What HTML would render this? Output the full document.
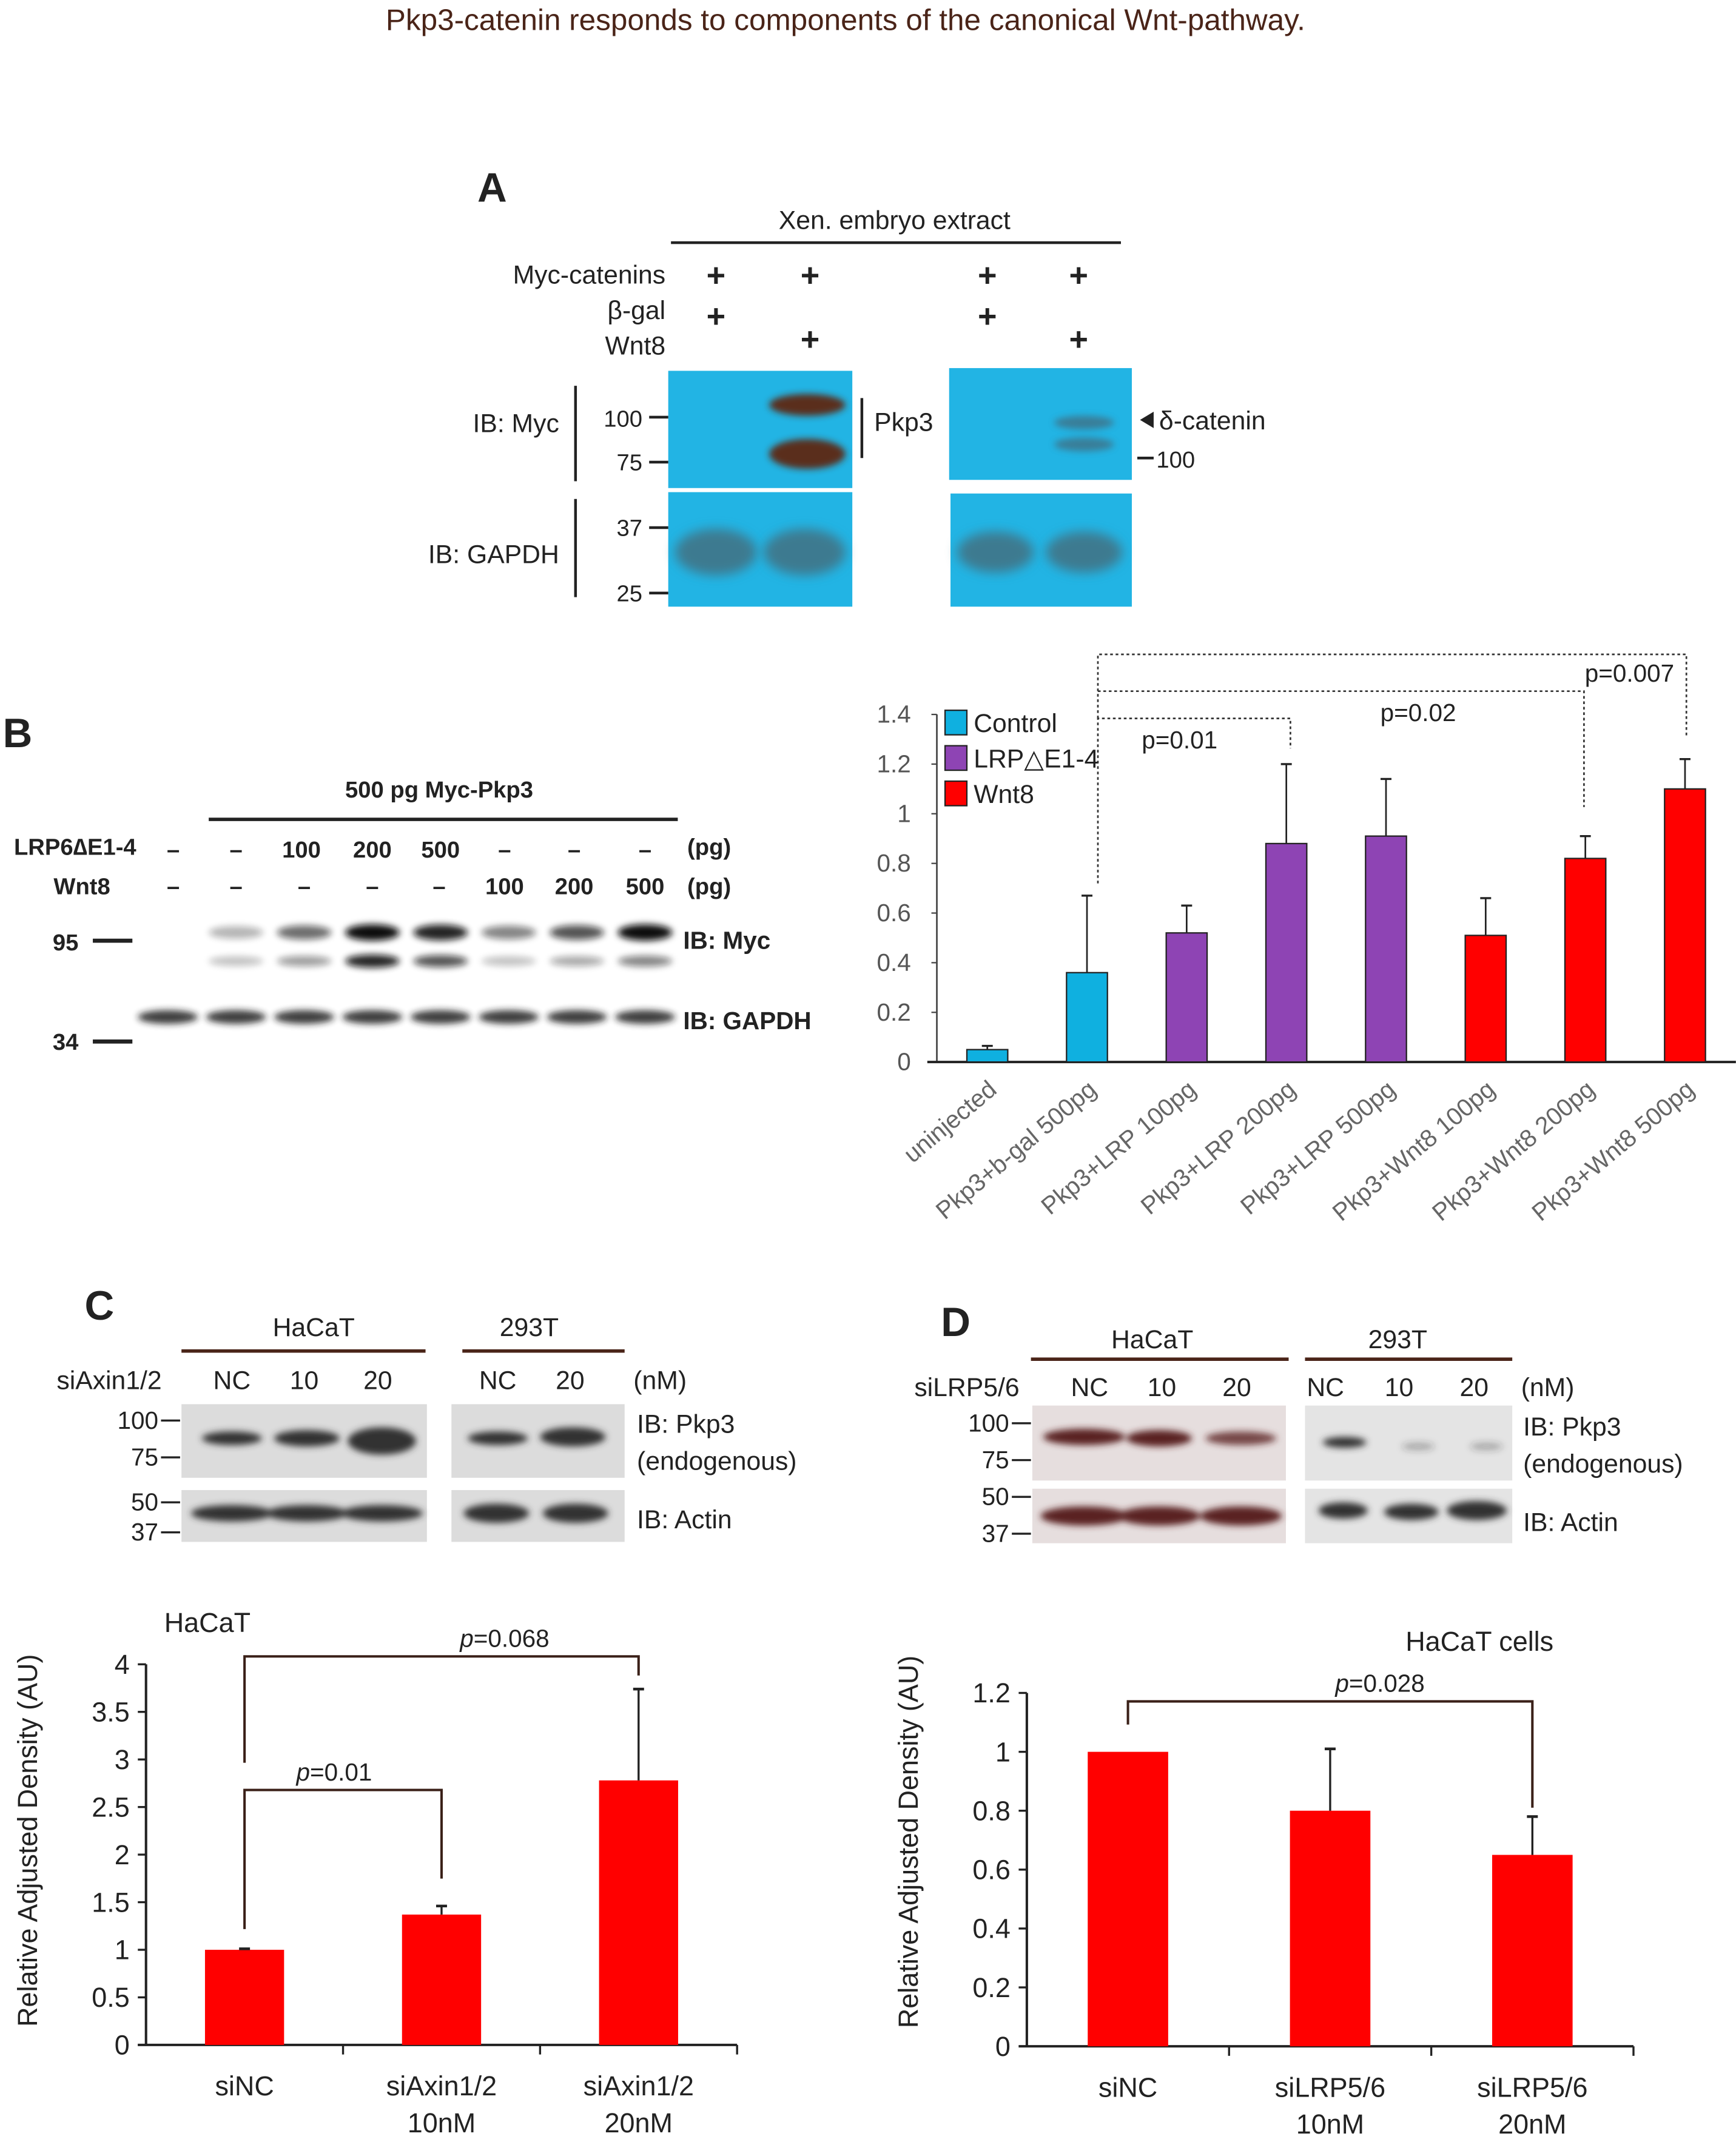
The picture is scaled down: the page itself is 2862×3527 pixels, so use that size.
<!DOCTYPE html>
<html><head><meta charset="utf-8"><style>
html,body{margin:0;padding:0;background:#fff}
svg{display:block}
text{font-family:"Liberation Sans",sans-serif;fill:#222}
</style></head><body>
<svg id="fig" width="2862" height="3527" viewBox="0 0 1273 1569" xmlns="http://www.w3.org/2000/svg">
<defs>
<filter id="bl" x="-50%" y="-100%" width="200%" height="300%"><feGaussianBlur stdDeviation="2.5"/></filter>
<filter id="bl2" x="-50%" y="-100%" width="200%" height="300%"><feGaussianBlur stdDeviation="4"/></filter>
</defs>
<text x="620" y="22" font-size="22" text-anchor="middle" style="fill:#4a2418">Pkp3-catenin responds to components of the canonical Wnt-pathway.</text>

<!-- Panel A -->
<g>
<text x="350" y="148" font-size="30" font-weight="bold">A</text>
<text x="656" y="168" font-size="19" text-anchor="middle">Xen. embryo extract</text>
<line x1="492" y1="178" x2="822" y2="178" stroke="#222" stroke-width="2"/>
<text x="488" y="208" font-size="19" text-anchor="end">Myc-catenins</text>
<text x="488" y="234" font-size="19" text-anchor="end">β-gal</text>
<text x="488" y="260" font-size="19" text-anchor="end">Wnt8</text>
<g font-size="24" font-weight="bold" text-anchor="middle">
<text x="525" y="210">+</text><text x="594" y="210">+</text><text x="724" y="210">+</text><text x="791" y="210">+</text>
<text x="525" y="240">+</text><text x="724" y="240">+</text>
<text x="594" y="257">+</text><text x="791" y="257">+</text>
</g>
<rect x="490" y="272" width="135" height="86" fill="#22b4e4"/>
<rect x="490" y="361" width="135" height="84" fill="#22b4e4"/>
<rect x="696" y="270" width="134" height="82" fill="#22b4e4"/>
<rect x="697" y="362" width="133" height="83" fill="#22b4e4"/>
<ellipse cx="592" cy="297" rx="28" ry="8" fill="#5a2d1e" filter="url(#bl)"/>
<ellipse cx="592" cy="333" rx="28" ry="11" fill="#5a2d1e" filter="url(#bl)"/>
<ellipse cx="795" cy="310" rx="22" ry="5" fill="#4a5a66" filter="url(#bl)" opacity=".6"/>
<ellipse cx="795" cy="326" rx="22" ry="5" fill="#4a5a66" filter="url(#bl)" opacity=".6"/>
<ellipse cx="525" cy="405" rx="30" ry="17" fill="#3d7a90" filter="url(#bl2)"/>
<ellipse cx="590" cy="405" rx="30" ry="17" fill="#3d7a90" filter="url(#bl2)"/>
<ellipse cx="730" cy="405" rx="28" ry="15" fill="#3d7a90" filter="url(#bl2)"/>
<ellipse cx="795" cy="405" rx="28" ry="15" fill="#3d7a90" filter="url(#bl2)"/>
<text x="410" y="317" font-size="19" text-anchor="end">IB: Myc</text>
<line x1="422" y1="283" x2="422" y2="353" stroke="#222" stroke-width="2"/>
<text x="410" y="413" font-size="19" text-anchor="end">IB: GAPDH</text>
<line x1="422" y1="366" x2="422" y2="438" stroke="#222" stroke-width="2"/>
<g font-size="17" text-anchor="end">
<text x="471" y="313">100</text><text x="471" y="345">75</text><text x="471" y="393">37</text><text x="471" y="441">25</text>
</g>
<g stroke="#222" stroke-width="2"><line x1="476" y1="306" x2="490" y2="306"/><line x1="476" y1="339" x2="490" y2="339"/><line x1="476" y1="387" x2="490" y2="387"/><line x1="476" y1="435" x2="490" y2="435"/>
<line x1="632" y1="292" x2="632" y2="336"/><line x1="834" y1="336" x2="846" y2="336"/></g>
<text x="641" y="316" font-size="19">Pkp3</text>
<polygon points="836,308 846,302 846,314" fill="#222"/>
<text x="850" y="315" font-size="19">δ-catenin</text>
<text x="848" y="343" font-size="17">100</text>
</g>

<!-- Panel B blot -->
<g>
<text x="2" y="548" font-size="30" font-weight="bold">B</text>
<text x="322" y="585" font-size="17" font-weight="bold" text-anchor="middle">500 pg Myc-Pkp3</text>
<line x1="153" y1="601" x2="497" y2="601" stroke="#222" stroke-width="2.5"/>
<g font-size="17" font-weight="bold" text-anchor="middle">
<text x="55" y="627">LRP6∆E1-4</text><text x="60" y="656">Wnt8</text>
<text x="127" y="629">–</text><text x="173" y="629">–</text><text x="221" y="629">100</text><text x="273" y="629">200</text><text x="323" y="629">500</text><text x="370" y="629">–</text><text x="421" y="629">–</text><text x="473" y="629">–</text><text x="520" y="627">(pg)</text>
<text x="127" y="656">–</text><text x="173" y="656">–</text><text x="223" y="656">–</text><text x="273" y="656">–</text><text x="322" y="656">–</text><text x="370" y="656">100</text><text x="421" y="656">200</text><text x="473" y="656">500</text><text x="520" y="656">(pg)</text>
<text x="48" y="697">95</text><text x="48" y="770">34</text>
</g>
<line x1="68" y1="690" x2="97" y2="690" stroke="#222" stroke-width="3"/>
<line x1="68" y1="764" x2="97" y2="764" stroke="#222" stroke-width="3"/>
<g id="bandsB"></g>
<text x="501" y="696" font-size="18" font-weight="bold">IB: Myc</text>
<text x="501" y="755" font-size="18" font-weight="bold">IB: GAPDH</text>
</g>

<!-- Panel B chart -->
<g id="chartB"></g>

<!-- Panel C blot -->
<g>
<text x="62" y="968" font-size="30" font-weight="bold">C</text>
<text x="230" y="980" font-size="19" text-anchor="middle">HaCaT</text>
<text x="388" y="980" font-size="19" text-anchor="middle">293T</text>
<line x1="133" y1="991" x2="312" y2="991" stroke="#4a2418" stroke-width="2.5"/>
<line x1="339" y1="991" x2="458" y2="991" stroke="#4a2418" stroke-width="2.5"/>
<g font-size="19" text-anchor="middle"><text x="80" y="1019">siAxin1/2</text><text x="170" y="1019">NC</text><text x="223" y="1019">10</text><text x="277" y="1019">20</text><text x="365" y="1019">NC</text><text x="418" y="1019">20</text><text x="484" y="1019">(nM)</text></g>
<rect x="133" y="1030" width="180" height="54" fill="#dcdcdc"/>
<rect x="331" y="1030" width="127" height="54" fill="#dcdcdc"/>
<rect x="133" y="1093" width="180" height="38" fill="#dcdcdc"/>
<rect x="331" y="1093" width="127" height="38" fill="#dcdcdc"/>
<g fill="#333" filter="url(#bl)">
<ellipse cx="170" cy="1055" rx="22" ry="5"/><ellipse cx="225" cy="1055" rx="24" ry="6"/><ellipse cx="280" cy="1057" rx="25" ry="10"/>
<ellipse cx="365" cy="1055" rx="22" ry="5"/><ellipse cx="420" cy="1054" rx="24" ry="7"/>
<ellipse cx="170" cy="1110" rx="30" ry="6"/><ellipse cx="225" cy="1110" rx="30" ry="6"/><ellipse cx="280" cy="1110" rx="30" ry="6"/>
<ellipse cx="364" cy="1110" rx="24" ry="7"/><ellipse cx="422" cy="1110" rx="24" ry="7"/></g>
<g font-size="18" text-anchor="end"><text x="116" y="1048">100</text><text x="116" y="1075">75</text><text x="116" y="1108">50</text><text x="116" y="1130">37</text></g>
<g stroke="#222" stroke-width="1.5"><line x1="118" y1="1042" x2="132" y2="1042"/><line x1="118" y1="1069" x2="132" y2="1069"/><line x1="118" y1="1102" x2="132" y2="1102"/><line x1="118" y1="1124" x2="132" y2="1124"/></g>
<text x="467" y="1051" font-size="19">IB: Pkp3</text><text x="467" y="1078" font-size="19">(endogenous)</text><text x="467" y="1121" font-size="19">IB: Actin</text>
</g>

<!-- Panel D blot -->
<g>
<text x="690" y="980" font-size="30" font-weight="bold">D</text>
<text x="845" y="989" font-size="19" text-anchor="middle">HaCaT</text>
<text x="1025" y="989" font-size="19" text-anchor="middle">293T</text>
<line x1="756" y1="997" x2="945" y2="997" stroke="#4a2418" stroke-width="2.5"/>
<line x1="957" y1="997" x2="1109" y2="997" stroke="#4a2418" stroke-width="2.5"/>
<g font-size="19" text-anchor="middle"><text x="709" y="1024">siLRP5/6</text><text x="799" y="1024">NC</text><text x="852" y="1024">10</text><text x="907" y="1024">20</text><text x="972" y="1024">NC</text><text x="1026" y="1024">10</text><text x="1081" y="1024">20</text><text x="1135" y="1024">(nM)</text></g>
<rect x="757" y="1031" width="186" height="55" fill="#e6dede"/>
<rect x="957" y="1031" width="152" height="55" fill="#e4e4e4"/>
<rect x="757" y="1092" width="186" height="40" fill="#e6dede"/>
<rect x="957" y="1092" width="152" height="40" fill="#e4e4e4"/>
<g fill="#5a2222" filter="url(#bl)">
<ellipse cx="795" cy="1054" rx="30" ry="6"/><ellipse cx="850" cy="1055" rx="24" ry="6"/><ellipse cx="910" cy="1055" rx="26" ry="5" opacity=".8"/>
<ellipse cx="795" cy="1112" rx="32" ry="7"/><ellipse cx="850" cy="1112" rx="30" ry="7"/><ellipse cx="910" cy="1112" rx="30" ry="7"/></g>
<g fill="#333" filter="url(#bl)">
<ellipse cx="986" cy="1058" rx="16" ry="4"/><ellipse cx="1040" cy="1061" rx="12" ry="3" opacity=".3"/><ellipse cx="1090" cy="1061" rx="12" ry="3" opacity=".3"/>
<ellipse cx="985" cy="1108" rx="18" ry="6"/><ellipse cx="1035" cy="1109" rx="20" ry="6"/><ellipse cx="1083" cy="1108" rx="22" ry="7"/></g>
<g font-size="18" text-anchor="end"><text x="740" y="1050">100</text><text x="740" y="1077">75</text><text x="740" y="1104">50</text><text x="740" y="1131">37</text></g>
<g stroke="#222" stroke-width="1.5"><line x1="742" y1="1044" x2="756" y2="1044"/><line x1="742" y1="1071" x2="756" y2="1071"/><line x1="742" y1="1098" x2="756" y2="1098"/><line x1="742" y1="1125" x2="756" y2="1125"/></g>
<text x="1117" y="1053" font-size="19">IB: Pkp3</text><text x="1117" y="1080" font-size="19">(endogenous)</text><text x="1117" y="1123" font-size="19">IB: Actin</text>
</g>

<g id="chartC"></g>
<g id="chartD"></g>
</svg>
<script>
// ---- Panel B chart data
const bCats = ["uninjected","Pkp3+b-gal 500pg","Pkp3+LRP 100pg","Pkp3+LRP 200pg","Pkp3+LRP 500pg","Pkp3+Wnt8 100pg","Pkp3+Wnt8 200pg","Pkp3+Wnt8 500pg"];
const bVals = [0.05,0.36,0.52,0.88,0.91,0.51,0.82,1.1];
const bErr = [0.015,0.31,0.11,0.32,0.23,0.15,0.09,0.12];
const bGroup = ["Control","Control","LRP","LRP","LRP","Wnt8","Wnt8","Wnt8"];
const bTicks = [0,0.2,0.4,0.6,0.8,1,1.2,1.4];
const bTickLabels = ["0","0.2","0.4","0.6","0.8","1","1.2","1.4"];
// ---- Panel C chart data
const cCats = [["siNC"],["siAxin1/2","10nM"],["siAxin1/2","20nM"]];
const cVals = [1,1.37,2.78];
const cErr = [0.01,0.09,0.96];
const cTicks = [0,0.5,1,1.5,2,2.5,3,3.5,4];
const cTickLabels = ["0","0.5","1","1.5","2","2.5","3","3.5","4"];
// ---- Panel D chart data
const dCats = [["siNC"],["siLRP5/6","10nM"],["siLRP5/6","20nM"]];
const dVals = [1,0.8,0.65];
const dErr = [0,0.21,0.13];
const dTicks = [0,0.2,0.4,0.6,0.8,1,1.2];
const dTickLabels = ["0","0.2","0.4","0.6","0.8","1","1.2"];
// ---- Panel B blot band intensities (relative)
const blotTop = [0,0.3,0.6,1,0.9,0.5,0.7,1];
const blotLow = [0,0.25,0.4,0.9,0.7,0.25,0.35,0.5];

const NS="http://www.w3.org/2000/svg";
function mk(parent,tag,attrs,txt){const e=document.createElementNS(NS,tag);for(const k in attrs)e.setAttribute(k,attrs[k]);if(txt!==undefined)e.textContent=txt;parent.appendChild(e);return e;}

// blot B
(function(){
const g=document.getElementById('bandsB');
const lx=i=>123+i*50;
blotTop.forEach((v,i)=>{if(v>0){const e=mk(g,'ellipse',{cx:lx(i),cy:684,rx:20,ry:4+2*v,fill:'#111',opacity:v,filter:'url(#bl)'});

}});
blotLow.forEach((v,i)=>{if(v>0){const e=mk(g,'ellipse',{cx:lx(i),cy:705,rx:20,ry:3+2*v,fill:'#111',opacity:v,filter:'url(#bl)'});

}});
blotTop.forEach((v,i)=>{const e=mk(g,'ellipse',{cx:lx(i),cy:746,rx:22,ry:5,fill:'#1a1a1a',opacity:0.85,filter:'url(#bl)'});

});
})();

// chart B
(function(){
const g=document.getElementById('chartB');
const y0=779, ppu=182.1, x=i=>724+i*73.1, w=30, ax=687;
const Y=v=>y0-v*ppu;
const col={Control:'#0fb0e0',LRP:'#8e44b4',Wnt8:'#ff0000'};
mk(g,'line',{x1:ax,y1:y0,x2:ax,y2:Y(1.4),stroke:'#444','stroke-width':1.2});
bTicks.forEach((t,i)=>{mk(g,'line',{x1:ax-4,y1:Y(t),x2:ax,y2:Y(t),stroke:'#444'});
const e=mk(g,'text',{x:668,y:Y(t)+6,'font-size':18,'text-anchor':'end',style:'fill:#555'},bTickLabels[i]);

});
mk(g,'line',{x1:680,y1:y0,x2:1273,y2:y0,stroke:'#222','stroke-width':1.8});
bVals.forEach((v,i)=>{
const r=mk(g,'rect',{x:x(i)-w/2,y:Y(v),width:w,height:v*ppu,fill:col[bGroup[i]],stroke:'#222','stroke-width':1});


mk(g,'line',{x1:x(i),y1:Y(v),x2:x(i),y2:Y(v+bErr[i]),stroke:'#222','stroke-width':1.2});
mk(g,'line',{x1:x(i)-4,y1:Y(v+bErr[i]),x2:x(i)+4,y2:Y(v+bErr[i]),stroke:'#222','stroke-width':1.5});
const t=mk(g,'text',{x:x(i)+8,y:y0+22,'font-size':18,'text-anchor':'end',transform:`rotate(-40 ${x(i)+8} ${y0+22})`,style:'fill:#666'},bCats[i]);


});
// legend
[['Control','Control'],['LRP△E1-4','LRP'],['Wnt8','Wnt8']].forEach((l,i)=>{
const r=mk(g,'rect',{x:693,y:521+i*26,width:16,height:18,fill:col[l[1]],stroke:'#222'});


const t=mk(g,'text',{x:714,y:537+i*26,'font-size':19},l[0]);

});
// brackets
const dash={stroke:'#333','stroke-width':1.2,'stroke-dasharray':'2,2',fill:'none'};
const lx=x(1)+8;
mk(g,'polyline',Object.assign({points:`${lx},648 ${lx},527 ${x(3)+3},527 ${x(3)+3},549`},dash));
mk(g,'polyline',Object.assign({points:`${lx},527 ${lx},507 ${x(6)-1},507 ${x(6)-1},592`},dash));
mk(g,'polyline',Object.assign({points:`${lx},507 ${lx},480 ${x(7)+1},480 ${x(7)+1},541`},dash));
mk(g,'text',{x:865,y:549,'font-size':18,'text-anchor':'middle'},'p=0.01');
mk(g,'text',{x:1040,y:529,'font-size':18,'text-anchor':'middle'},'p=0.02');
mk(g,'text',{x:1195,y:500,'font-size':18,'text-anchor':'middle'},'p=0.007');
})();

function barChart(id,cats,vals,errs,ticks,labels,cfg){
const g=document.getElementById(id);
const Y=v=>cfg.y0-v*cfg.ppu, x=i=>cfg.x0+cfg.step*(i+0.5);
mk(g,'line',{x1:cfg.x0,y1:cfg.y0,x2:cfg.x0,y2:Y(ticks[ticks.length-1]),stroke:'#222','stroke-width':1.8});
mk(g,'line',{x1:cfg.x0-6,y1:cfg.y0,x2:cfg.x0+cfg.step*cats.length,y2:cfg.y0,stroke:'#222','stroke-width':1.8});
ticks.forEach((t,i)=>{mk(g,'line',{x1:cfg.x0-6,y1:Y(t),x2:cfg.x0,y2:Y(t),stroke:'#222','stroke-width':1.5});
const e=mk(g,'text',{x:cfg.x0-12,y:Y(t)+7,'font-size':20,'text-anchor':'end'},labels[i]);

});
for(let i=1;i<=cats.length;i++)mk(g,'line',{x1:cfg.x0+cfg.step*i,y1:cfg.y0,x2:cfg.x0+cfg.step*i,y2:cfg.y0+7,stroke:'#222','stroke-width':1.5});
vals.forEach((v,i)=>{
const r=mk(g,'rect',{x:x(i)-cfg.w/2,y:Y(v),width:cfg.w,height:v*cfg.ppu,fill:'#ff0000'});


if(errs[i]>0){mk(g,'line',{x1:x(i),y1:Y(v),x2:x(i),y2:Y(v+errs[i]),stroke:'#222','stroke-width':1.5});
mk(g,'line',{x1:x(i)-4,y1:Y(v+errs[i]),x2:x(i)+4,y2:Y(v+errs[i]),stroke:'#222','stroke-width':2});}
cats[i].forEach((s,j)=>{const t=mk(g,'text',{x:x(i),y:cfg.y0+37+j*27,'font-size':20,'text-anchor':'middle'},s);

});
});
const yt=mk(g,'text',{x:0,y:0,'font-size':20,'text-anchor':'middle',transform:`translate(${cfg.x0-80},${cfg.y0-150}) rotate(-90)`},'Relative Adjusted Density (AU)');


const tt=mk(g,'text',{x:cfg.tx,y:cfg.ty,'font-size':20,'text-anchor':'middle'},cfg.title);


return {g,Y,x};
}
function ptext(g,x,y,val){const t=mk(g,'text',{x:x,y:y,'font-size':18,'text-anchor':'middle'});
mk(t,'tspan',{'font-style':'italic'},'p');mk(t,'tspan',{},val);return t;}
(function(){
const c=barChart('chartC',cCats,cVals,cErr,cTicks,cTickLabels,{x0:107,y0:1500,ppu:69.8,step:144.5,w:58,title:'HaCaT',tx:152,ty:1197});
const s={stroke:'#3a2018','stroke-width':1.8,fill:'none'};
mk(c.g,'polyline',Object.assign({points:`${c.x(0)},1415 ${c.x(0)},1313 ${c.x(1)},1313 ${c.x(1)},1378`},s));
mk(c.g,'polyline',Object.assign({points:`${c.x(0)},1293 ${c.x(0)},1215 ${c.x(2)},1215 ${c.x(2)},1229`},s));
ptext(c.g,245,1306,'=0.01');
ptext(c.g,370,1208,'=0.068');
const d=barChart('chartD',dCats,dVals,dErr,dTicks,dTickLabels,{x0:753,y0:1501,ppu:216,step:148.3,w:59,title:'HaCaT cells',tx:1085,ty:1211});
mk(d.g,'polyline',Object.assign({points:`${d.x(0)},1265 ${d.x(0)},1248 ${d.x(2)},1248 ${d.x(2)},1326`},s));
ptext(d.g,1012,1241,'=0.028');
})();
</script>
</body></html>
